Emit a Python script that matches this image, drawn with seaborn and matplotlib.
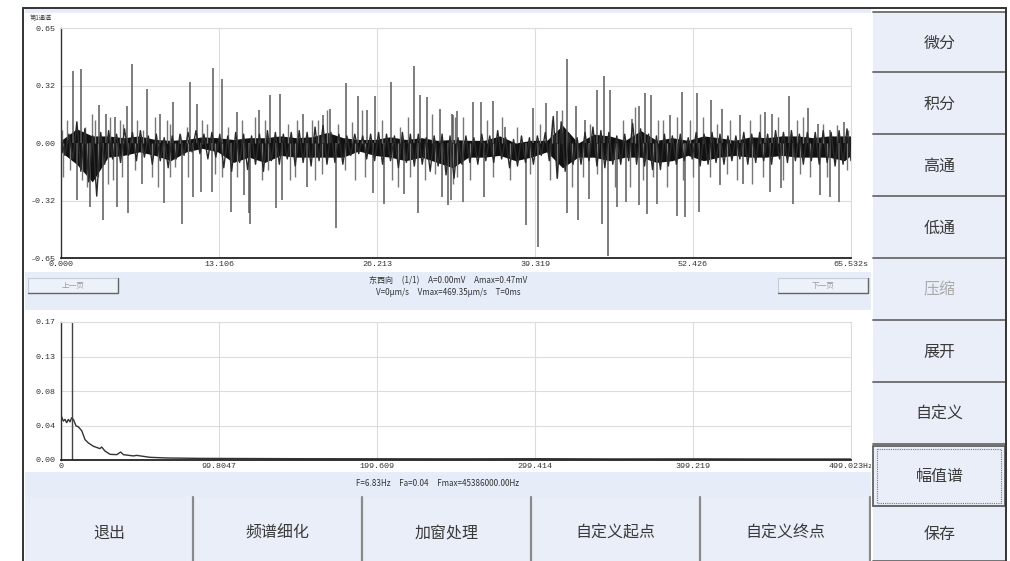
"""
Vibration record screen: time waveform on top, amplitude spectrum below,
with the instrument's button panels drawn around them.
"""

import matplotlib
matplotlib.use('Agg')
import matplotlib.pyplot as plt
from matplotlib.patches import Rectangle
import seaborn as sns

sns.set_theme(style='white')
plt.rcParams['font.family'] = ['Noto Sans CJK SC', 'DejaVu Sans']

W, H = 1010, 561

# time waveform: dense core band (read every ~1.3 s) and the visible spikes
band_t = [0, 1.3, 2.6, 3.9, 5.2, 6.5, 7.8, 9.1, 10.4, 11.7, 13.0, 14.3, 15.6,
          16.9, 18.2, 19.5, 20.8, 22.1, 23.4, 24.7, 26.0, 27.3, 28.6, 29.9,
          31.2, 32.5, 33.8, 35.1, 36.4, 37.7, 39.0, 40.3, 41.6, 42.9, 44.2,
          45.5, 46.8, 48.1, 49.4, 50.7, 52.0, 53.3, 54.6, 55.9, 57.2, 58.5,
          59.8, 61.1, 62.4, 63.7, 65.0, 65.5]
band_hi = [0.015, 0.08, 0.04, 0.04, 0.03, 0.04, 0.02, 0.015, 0.02, 0.035,
           0.03, 0.02, 0.03, 0.03, 0.04, 0.03, 0.035, 0.06, 0.03, 0.02,
           0.02, 0.035, 0.02, 0.03, 0.015, 0.02, 0.015, 0.015, 0.04,
           0.0, 0.015, 0.015, 0.10, 0.0, 0.05, 0.04, 0.015, 0.07, 0.015,
           0.03, 0.015, 0.04, 0.03, 0.015, 0.035, 0.03, 0.04, 0.04, 0.03,
           0.04, 0.04, 0.04]
band_lo = [-0.05, -0.12, -0.22, -0.08, -0.07, -0.05, -0.07, -0.10, -0.05,
           -0.03, -0.05, -0.11, -0.08, -0.11, -0.07, -0.08, -0.08, -0.08,
           -0.08, -0.045, -0.07, -0.08, -0.10, -0.08, -0.11, -0.14, -0.08,
           -0.08, -0.07, -0.10, -0.08, -0.05, -0.14, -0.08, -0.08, -0.10,
           -0.08, -0.08, -0.11, -0.10, -0.07, -0.10, -0.08, -0.07, -0.08,
           -0.08, -0.07, -0.08, -0.08, -0.08, -0.10, -0.07]

# trace samples, one every wave_dt seconds
wave_dt = 0.3293
wave_v = [0.03, -0.07, 0.05, -0.09, 0.12, -0.16, 0.08, -0.22, 0.04, -0.30,
          0.06, -0.12, 0.07, -0.09, 0.05, -0.11, 0.08, -0.07, 0.06, -0.10,
          0.07, -0.08, 0.04, -0.12, 0.05, -0.10, 0.03, -0.14, 0.04, -0.09,
          0.05, -0.07, 0.06, -0.05, 0.07, -0.06, 0.05, -0.09, 0.06, -0.08,
          0.05, -0.14, 0.04, -0.16, 0.06, -0.11, 0.05, -0.15, 0.04, -0.12,
          0.05, -0.16, 0.07, -0.10, 0.06, -0.12, 0.05, -0.09, 0.06, -0.13,
          0.07, -0.11, 0.06, -0.13, 0.09, -0.10, 0.10, -0.12, 0.06, -0.11,
          0.05, -0.12, 0.04, -0.07, 0.05, -0.06, 0.04, -0.09, 0.05, -0.10,
          0.06, -0.12, 0.05, -0.10, 0.04, -0.14, 0.06, -0.11, 0.05, -0.13,
          0.05, -0.12, 0.03, -0.16, 0.04, -0.13, 0.05, -0.18, 0.04, -0.20,
          0.03, -0.12, 0.04, -0.11, 0.03, -0.12, 0.05, -0.10, 0.04, -0.11,
          0.07, -0.09, 0.03, -0.14, 0.02, -0.13, 0.04, -0.11, 0.03, -0.12,
          0.04, -0.07, 0.06, -0.10, 0.15, -0.20, 0.12, -0.16, 0.05, -0.12,
          0.03, -0.12, 0.06, -0.10, 0.09, -0.13, 0.07, -0.14, 0.06, -0.12,
          0.04, -0.12, 0.05, -0.10, 0.11, -0.12, 0.08, -0.13, 0.05, -0.15,
          0.04, -0.15, 0.05, -0.13, 0.04, -0.12, 0.05, -0.10, 0.03, -0.09,
          0.06, -0.13, 0.05, -0.12, 0.06, -0.11, 0.05, -0.12, 0.04, -0.10,
          0.04, -0.09, 0.06, -0.12, 0.05, -0.11, 0.06, -0.10, 0.05, -0.12,
          0.07, -0.09, 0.06, -0.11, 0.07, -0.10, 0.05, -0.12, 0.06, -0.10,
          0.06, -0.12, 0.07, -0.11, 0.06, -0.13, 0.07, -0.12, 0.08, -0.10]

# tall spikes
up_t = [1.02, 1.63, 3.18, 3.71, 4.48, 5.47, 5.86, 7.11, 8.21, 9.32, 10.70,
        11.31, 12.64, 13.38, 14.57, 16.42, 17.34, 18.17, 20.10, 21.76, 22.31,
        23.61, 24.61, 25.36, 26.05, 27.37, 29.31, 29.78, 30.33, 31.44, 32.41,
        32.49, 32.82, 34.20, 34.81, 35.86, 36.83, 39.18, 40.20, 41.12, 41.95,
        42.72, 43.47, 44.43, 45.04, 45.54, 47.34, 47.95, 48.47, 48.94, 50.52,
        51.49, 52.78, 53.89, 54.86, 56.32, 58.40, 58.95, 60.36, 61.99, 62.82,
        63.79, 64.95]
up_v = [0.406, 0.419, 0.212, 0.165, 0.147, 0.207, 0.447, 0.306, 0.162, 0.231,
        0.344, 0.218, 0.423, 0.363, 0.175, 0.188, 0.274, 0.278, 0.165, 0.156,
        0.194, 0.340, 0.263, 0.188, 0.263, 0.344, 0.434, 0.269, 0.259, 0.194,
        0.165, 0.160, 0.180, 0.231, 0.231, 0.237, 0.090, 0.199, 0.225, 0.180,
        0.475, 0.207, 0.128, 0.297, 0.381, 0.301, 0.137, 0.207, 0.284, 0.269,
        0.156, 0.287, 0.282, 0.241, 0.194, 0.160, 0.175, 0.165, 0.265, 0.199,
        0.105, 0.071, 0.118]
down_t = [1.30, 2.41, 3.46, 4.62, 5.59, 6.75, 8.57, 10.01, 10.92, 11.61, 12.50,
          14.07, 15.21, 15.59, 15.68, 17.83, 18.30, 20.43, 22.81, 25.91, 26.82,
          28.48, 29.64, 31.58, 32.13, 32.32, 33.32, 35.12, 38.57, 39.60, 42.00,
          42.91, 43.83, 44.85, 45.35, 46.09, 46.87, 47.97, 48.64, 49.47, 51.13,
          51.76, 52.95, 54.66, 56.60, 58.81, 59.70, 60.75, 62.96, 63.79, 64.51]
down_v = [-0.323, -0.361, -0.436, -0.361, -0.398, -0.229, -0.338, -0.458,
          -0.304, -0.276, -0.276, -0.389, -0.295, -0.398, -0.458, -0.370,
          -0.323, -0.248, -0.483, -0.282, -0.342, -0.286, -0.395, -0.304,
          -0.351, -0.323, -0.333, -0.304, -0.464, -0.586, -0.398, -0.436,
          -0.314, -0.455, -0.640, -0.361, -0.333, -0.351, -0.404, -0.342,
          -0.413, -0.421, -0.389, -0.239, -0.233, -0.276, -0.257, -0.342,
          -0.295, -0.304, -0.333]

# medium spikes forming the grey fringe of the band
mid_up_t = [0.06, 0.47, 1.99, 2.54, 2.82, 4.06, 4.89, 5.17, 6.28, 6.83, 7.80,
            8.76, 9.04, 9.87, 10.42, 11.67, 12.08, 13.88, 14.99, 16.09, 16.92,
            18.86, 19.55, 20.79, 21.35, 22.04, 23.00, 24.11, 24.94, 26.60,
            28.12, 28.81, 30.75, 32.68, 33.37, 35.31, 36.55, 37.80, 39.73,
            40.70, 41.53, 43.88, 46.65, 47.61, 49.55, 49.96, 51.07, 52.18,
            53.28, 54.39, 55.50, 57.16, 57.98, 59.51, 61.03, 61.58, 63.24,
            64.35, 65.32]
mid_up_v = [0.071, 0.128, 0.090, 0.165, 0.128, 0.147, 0.128, 0.109, 0.128,
            0.071, 0.147, 0.128, 0.109, 0.053, 0.090, 0.128, 0.109, 0.090,
            0.128, 0.147, 0.128, 0.109, 0.128, 0.128, 0.128, 0.184, 0.109,
            0.118, 0.184, 0.128, 0.090, 0.147, 0.165, 0.147, 0.147, 0.128,
            0.147, 0.090, 0.109, 0.128, 0.184, 0.109, 0.128, 0.203, 0.128,
            0.128, 0.147, 0.128, 0.147, 0.109, 0.128, 0.128, 0.165, 0.147,
            0.128, 0.147, 0.109, 0.100, 0.071]
mid_down_t = [0.19, 0.75, 1.71, 2.13, 3.10, 3.93, 4.34, 5.03, 6.14, 7.52, 8.07,
              9.04, 9.46, 10.56, 12.77, 13.33, 14.57, 16.65, 17.20, 19.00,
              19.41, 21.07, 21.62, 23.56, 24.39, 25.21, 27.43, 27.98, 28.95,
              30.19, 31.02, 32.54, 32.82, 33.93, 35.86, 37.25, 38.91, 40.57,
              41.12, 42.36, 43.33, 44.43, 45.95, 47.20, 48.30, 49.13, 50.24,
              51.62, 52.45, 53.83, 55.22, 56.04, 57.29, 58.26, 59.92, 61.30,
              62.13, 63.51, 65.17]
mid_down_v = [-0.192, -0.154, -0.210, -0.248, -0.192, -0.229, -0.210, -0.192,
              -0.154, -0.192, -0.248, -0.192, -0.135, -0.192, -0.173, -0.192,
              -0.192, -0.210, -0.154, -0.210, -0.192, -0.210, -0.173, -0.154,
              -0.210, -0.192, -0.210, -0.248, -0.192, -0.210, -0.173, -0.229,
              -0.192, -0.210, -0.192, -0.210, -0.173, -0.210, -0.192, -0.248,
              -0.192, -0.173, -0.248, -0.248, -0.210, -0.192, -0.248, -0.210,
              -0.192, -0.192, -0.173, -0.210, -0.229, -0.192, -0.210, -0.173,
              -0.192, -0.192, -0.154]

# amplitude spectrum
spec_f = [0, 0, 0.2, 1.5, 2.5, 3.6, 4.6, 5.7, 6.7, 7.8, 9.5, 10.9, 13.1, 15.2,
          17.3, 20.4, 24.6, 25.7, 27.8, 31.0, 35.2, 37.7, 39.4, 45.7, 47.8,
          56.2, 66.7, 87.8, 119.4, 150, 200, 250, 300, 350, 400, 450, 499]
spec_a = [0, 0.139, 0.054, 0.048, 0.050, 0.046, 0.050, 0.047, 0.052, 0.050,
          0.042, 0.041, 0.036, 0.025, 0.021, 0.017, 0.014, 0.016, 0.011, 0.007,
          0.0066, 0.0098, 0.0066, 0.005, 0.0057, 0.0033, 0.0025, 0.002, 0.0018,
          0.0016, 0.0015, 0.0014, 0.0016, 0.0013, 0.0014, 0.0012, 0.0012]
cursor_f = 6.83

wave_xticks = [0, 13.106, 26.213, 39.319, 52.426, 65.532]
wave_xlabels = ['0.000', '13.106', '26.213', '39.319', '52.426', '65.532s']
wave_yticks = [-0.65, -0.325, 0, 0.325, 0.65]
wave_ylabels = ['-0.65', '-0.32', '0.00', '0.32', '0.65']
spec_xticks = [0, 99.8047, 199.609, 299.414, 399.219, 499.023]
spec_xlabels = ['0', '99.8047', '199.609', '299.414', '399.219', '499.023Hz']
spec_yticks = [0, 0.0425, 0.085, 0.1275, 0.17]
spec_ylabels = ['0.00', '0.04', '0.08', '0.13', '0.17']

side_buttons = ['微分', '积分', '高通', '低通', '压缩', '展开', '自定义', '幅值谱', '保存']
bottom_buttons = ['退出', '频谱细化', '加窗处理', '自定义起点', '自定义终点']

wave_info = ['东西向     (1/1)     A=0.00mV     Amax=0.47mV',
             'V=0μm/s     Vmax=469.35μm/s     T=0ms']
spec_info = 'F=6.83Hz     Fa=0.04     Fmax=45386000.00Hz'

PANEL = '#e6edf9'
BUTTON = '#e9eef8'
MONO = 'Liberation Mono'


def px_rect(x0, y0, x1, y1):
    return [x0 / W, 1 - y1 / H, (x1 - x0) / W, (y1 - y0) / H]


def pixel_axes(fig, zorder):
    ax = fig.add_axes([0, 0, 1, 1], zorder=zorder)
    ax.set_xlim(0, W)
    ax.set_ylim(H, 0)
    ax.axis('off')
    ax.patch.set_alpha(0)
    return ax


def style_chart(ax, xticks, xlabels, yticks, ylabels):
    ax.set_xticks(xticks)
    ax.set_xticklabels(xlabels, fontsize=6, family=MONO, color='#333')
    ax.set_yticks(yticks)
    ax.set_yticklabels(ylabels, fontsize=6, family=MONO, color='#333')
    minor_x = [(a + b) / 2 for a, b in zip(xticks[:-1], xticks[1:])]
    minor_y = [(a + b) / 2 for a, b in zip(yticks[:-1], yticks[1:])]
    ax.set_xticks(minor_x, minor=True)
    ax.set_yticks(minor_y, minor=True)
    ax.tick_params(axis='x', which='both', direction='inout', length=3,
                   width=0.8, color='#333', pad=1)
    ax.tick_params(axis='y', which='both', direction='out', length=3,
                   width=0.8, color='#333', pad=1)
    ax.grid(True, which='major', color='#dcdcdc', lw=0.8)
    ax.set_axisbelow(True)
    for side in ['top', 'right']:
        ax.spines[side].set_color('#dcdcdc')
        ax.spines[side].set_linewidth(0.8)
    ax.spines['left'].set_color('#333')
    ax.spines['left'].set_linewidth(1)
    ax.spines['bottom'].set_color('#222')
    ax.spines['bottom'].set_linewidth(1.3)
    ax.set_xlabel('')
    ax.set_ylabel('')


def main():
    fig = plt.figure(figsize=(W / 100, H / 100), dpi=100)
    fig.patch.set_facecolor('white')

    # background panels
    bg = pixel_axes(fig, 0)
    bg.add_patch(Rectangle((25, 9), 846, 4, color=PANEL, lw=0))
    bg.add_patch(Rectangle((25, 272), 846, 38, color=PANEL, lw=0))
    bg.add_patch(Rectangle((25, 472), 846, 25, color=PANEL, lw=0))
    bg.add_patch(Rectangle((25, 497), 846, 64, color=BUTTON, lw=0))
    bg.text(30, 18, '第1通道', fontsize=4.5, color='#444', va='center')

    # page buttons
    for (x0, label) in [(28, '上一页'), (778, '下一页')]:
        bg.add_patch(Rectangle((x0, 278), 90, 15, facecolor='#edf1fa',
                               edgecolor='#c8ccd4', lw=0.8))
        bg.plot([x0, x0 + 90, x0 + 90], [293, 293, 278], color='#666', lw=1)
        bg.text(x0 + 45, 285.5, label, fontsize=5.5, color='#999',
                ha='center', va='center')

    for i, line in enumerate(wave_info):
        bg.text(448, 281 + 11 * i, line, fontsize=5.8, color='#333',
                ha='center', va='center')
    bg.text(438, 483.5, spec_info, fontsize=5.8, color='#333',
            ha='center', va='center')

    # bottom buttons
    edges = [25, 193, 362, 531, 700, 870]
    for i, label in enumerate(bottom_buttons):
        cx = (edges[i] + edges[i + 1]) / 2
        bg.text(cx, 533, label, fontsize=11.5, color='#3a3a3a',
                ha='center', va='center')
    for x in edges[1:]:
        bg.plot([x, x], [497, 561], color='#8a8a8a', lw=1.6)

    # time waveform
    ax1 = fig.add_axes(px_rect(61, 28, 851, 258), zorder=1)
    ax1.set_facecolor('white')
    ax1.vlines(mid_up_t, 0, mid_up_v, colors='#777777', lw=1.0)
    ax1.vlines(mid_down_t, 0, mid_down_v, colors='#777777', lw=1.0)
    ax1.vlines(up_t, 0, up_v, colors='#5a5a5a', lw=1.1)
    ax1.vlines(down_t, 0, down_v, colors='#5a5a5a', lw=1.1)
    wave_t = [i * wave_dt for i in range(len(wave_v))]
    sns.lineplot(x=wave_t, y=wave_v, ax=ax1, color='#2a2a2a', lw=1.0,
                 sort=False, estimator=None)
    ax1.fill_between(band_t, band_lo, band_hi, color='#111', lw=0)
    ax1.set_xlim(0, 65.532)
    ax1.set_ylim(-0.65, 0.65)
    style_chart(ax1, wave_xticks, wave_xlabels, wave_yticks, wave_ylabels)

    # amplitude spectrum
    ax2 = fig.add_axes(px_rect(61, 322, 851, 460), zorder=1)
    ax2.set_facecolor('white')
    sns.lineplot(x=spec_f, y=spec_a, ax=ax2, color='#333', lw=1,
                 sort=False, estimator=None)
    ax2.axvline(cursor_f, color='#444', lw=1)
    ax2.set_xlim(0, 499.023)
    ax2.set_ylim(0, 0.17)
    style_chart(ax2, spec_xticks, spec_xlabels, spec_yticks, spec_ylabels)

    # right button column and frame drawn on top
    top = pixel_axes(fig, 3)
    bounds = [12, 72, 134, 196, 258, 320, 382, 444, 506, 561]
    top.add_patch(Rectangle((871, 9), 135, 552, color='white', lw=0))
    for i, label in enumerate(side_buttons):
        y0, y1 = bounds[i], bounds[i + 1]
        top.add_patch(Rectangle((873, y0 + 1), 133, y1 - y0 - 1,
                                color=BUTTON, lw=0))
        top.plot([873, 1006], [y1, y1], color='#6a6a6a', lw=1.3)
        color = '#aaaaaa' if label == '压缩' else '#3a3a3a'
        top.text(939.5, (y0 + y1) / 2 + 1, label, fontsize=11.5,
                 color=color, ha='center', va='center')
    top.plot([873, 1006], [12, 12], color='#6a6a6a', lw=1.3)
    # selected button
    top.add_patch(Rectangle((873, 446), 132, 60, fill=False,
                            edgecolor='#555', lw=1.2))
    top.add_patch(Rectangle((877, 449), 124, 54, fill=False,
                            edgecolor='#777', lw=0.8, ls=(0, (1, 1))))

    # outer frame
    top.plot([23, 1006], [8, 8], color='#333', lw=1.4)
    top.plot([23, 23], [8, 561], color='#333', lw=1.4)
    top.plot([1006, 1006], [8, 561], color='#333', lw=1.4)

    fig.savefig('out.png', dpi=100)


main()
